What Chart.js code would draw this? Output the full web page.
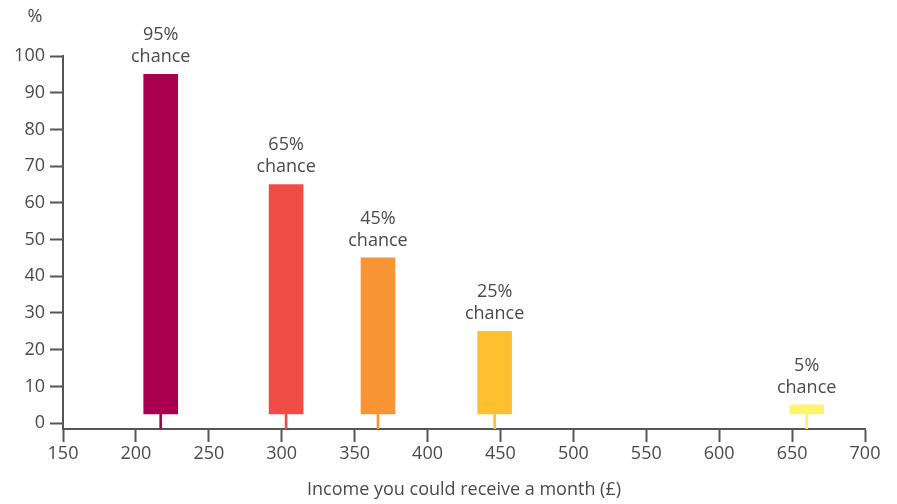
<!DOCTYPE html>
<html>
<head>
<meta charset="utf-8">
<script src="https://cdn.jsdelivr.net/npm/chart.js@4/dist/chart.umd.min.js"></script>
<style>
  html, body { margin: 0; padding: 0; background: #ffffff; }
  canvas { display: block; }
</style>
</head>
<body>
<canvas id="chart" width="897" height="504"></canvas>
<script>
// Monthly income outcomes and the chance of receiving at least that much
const incomes = [217, 303, 366, 446, 660];
const chances = [95, 65, 45, 25, 5];
const barBase = 2.5;
const yTickValues = [0, 10, 20, 30, 40, 50, 60, 70, 80, 90, 100];
const xTitle = 'Income you could receive a month (£)';
const yUnit = '%';

const palette = ['#a8004e', '#ef4c46', '#f79433', '#ffc030', '#fff36e'];
const textColour = '#4a4a4a';
const axisColour = '#555555';
const fontFamily = "'Open Sans', 'Noto Sans', sans-serif";
const fontSize = 18;
const yMin = -1.6;

// Text above each bar: "NN%" over "chance"
const barLabels = {
  id: 'barLabels',
  afterDatasetsDraw(chart) {
    const { ctx, scales: { x, y }, chartArea } = chart;
    ctx.save();
    ctx.fillStyle = textColour;
    ctx.font = `${fontSize}px ${fontFamily}`;
    ctx.textAlign = 'center';
    ctx.textBaseline = 'alphabetic';
    incomes.forEach((inc, i) => {
      const px = x.getPixelForValue(inc);
      const top = y.getPixelForValue(chances[i]);
      ctx.fillText('chance', px, top - 12);
      ctx.fillText(chances[i] + '%', px, top - 34);
    });
    // unit label above the value axis
    ctx.fillText(yUnit, chartArea.left - 28, chartArea.top - 34);
    ctx.restore();
  }
};

new Chart(document.getElementById('chart'), {
  type: 'bar',
  data: {
    datasets: [
      {
        label: 'chance',
        data: incomes.map((inc, i) => ({ x: inc, y: [barBase, chances[i]] })),
        backgroundColor: palette,
        barThickness: 34,
        grouped: false,
        order: 1
      },
      {
        label: 'stem',
        data: incomes.map(inc => ({ x: inc, y: [yMin, barBase] })),
        backgroundColor: palette,
        barThickness: 2,
        grouped: false,
        order: 2
      }
    ]
  },
  options: {
    responsive: false,
    devicePixelRatio: 1,
    animation: false,
    layout: { padding: { top: 56, left: 0, right: 32, bottom: 0 } },
    plugins: {
      legend: { display: false },
      tooltip: { enabled: false }
    },
    scales: {
      x: {
        type: 'linear',
        min: 150,
        max: 700,
        offset: false,
        ticks: {
          stepSize: 50,
          color: textColour,
          font: { family: fontFamily, size: fontSize },
          padding: 1,
          maxRotation: 0
        },
        grid: {
          offset: false,
          drawOnChartArea: false,
          drawTicks: true,
          tickLength: 13,
          tickColor: axisColour,
          tickWidth: 2
        },
        border: { display: true, color: axisColour, width: 2 },
        title: {
          display: true,
          text: xTitle,
          color: textColour,
          font: { family: fontFamily, size: fontSize },
          padding: { top: 4, bottom: 3 }
        },
        afterFit(scale) { scale.height = 75; }
      },
      y: {
        type: 'linear',
        min: yMin,
        max: 100,
        afterBuildTicks(scale) {
          scale.ticks = yTickValues.map(v => ({ value: v }));
        },
        ticks: {
          color: textColour,
          font: { family: fontFamily, size: fontSize },
          padding: 5
        },
        grid: {
          drawOnChartArea: false,
          drawTicks: true,
          tickLength: 13,
          tickColor: axisColour,
          tickWidth: 2
        },
        border: { display: true, color: axisColour, width: 2 },
        afterFit(scale) { scale.width = 63; }
      }
    }
  },
  plugins: [barLabels]
});
</script>
</body>
</html>
